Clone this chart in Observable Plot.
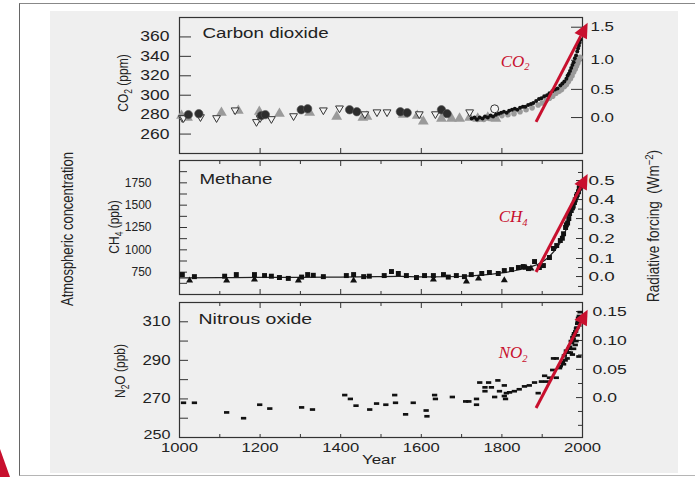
<!DOCTYPE html>
<html><head><meta charset="utf-8">
<script src="https://cdn.jsdelivr.net/npm/d3@7"></script>
<script src="https://cdn.jsdelivr.net/npm/@observablehq/plot@0.6"></script>
<style>
html,body{margin:0;padding:0;background:#fff;}
#root{position:relative;width:695px;height:477px;overflow:hidden;font-family:"Liberation Sans",Arial,sans-serif;color:#222;}
.panel{position:absolute;left:0;}
.panel svg{overflow:visible;display:block;}
.vlab{position:absolute;white-space:nowrap;line-height:1;}
.vlab sub,.vlab sup{font-size:0.7em;line-height:0;}
</style></head><body><div id="root">
<div style="position:absolute;left:19px;top:3px;width:700px;height:471px;border-left:1.5px solid #666;border-top:1.5px solid #888;border-bottom:1.5px solid #b5b5b5;"></div>
<div style="position:absolute;left:50px;top:11px;width:628px;height:462px;background:#efefef;"></div>
<svg style="position:absolute;left:0;top:0" width="695" height="477"><polygon points="0,449 10,477 0,477" fill="#c8102e"/></svg>
<div class="vlab" style="left:68px;top:229px;font-size:13px;transform:translate(-50%,-50%) rotate(-90deg) scale(1,1.2);">Atmospheric concentration</div>
<div class="vlab" style="left:654px;top:226px;font-size:13.5px;transform:translate(-50%,-50%) rotate(-90deg) scale(1,1.2);">Radiative forcing&nbsp;&nbsp;(Wm<sup>−2</sup>)</div>
<div class="vlab" style="left:123px;top:83px;font-size:12px;transform:translate(-50%,-50%) rotate(-90deg) scale(1,1.25);">CO<sub>2</sub>&nbsp;(ppm)</div>
<div class="vlab" style="left:114px;top:227px;font-size:12px;transform:translate(-50%,-50%) rotate(-90deg) scale(1,1.25);">CH<sub>4</sub>&nbsp;(ppb)</div>
<div class="vlab" style="left:120px;top:371px;font-size:12px;transform:translate(-50%,-50%) rotate(-90deg) scale(1,1.25);">N<sub>2</sub>O&nbsp;(ppb)</div>
</div>
<script>
// ---------- data (year, value) ----------
const co2Circles = [[1022,280],[1048,281],[1203,279],[1213,280],[1302,285],[1318,286],[1422,285],[1440,283],[1548,283],[1565,282],[1650,285],[1664,281]];
const co2Triangles = [[1005,279],[1020,277],[1104,282],[1146,284],[1198,283],[1248,281],[1323,282],[1390,278],[1455,277],[1465,278],[1555,280],[1590,279],[1605,273],[1650,276],[1675,276],[1695,276],[1720,277],[1740,276],[1765,277],[1785,276]];
const co2InvTriangles = [[1007,276],[1010,276],[1052,277],[1092,276],[1138,284],[1191,272],[1200,276],[1228,275],[1283,278],[1357,284],[1397,286],[1460,280],[1490,282],[1515,282],[1595,280],[1635,280],[1720,282]];
const co2OpenCircles = [[1782,286]];
const co2Black = [[1725,276],[1732,277],[1738,275],[1745,277],[1752,276],[1758,278],[1765,277],[1772,279],[1778,278],[1785,280],[1792,281],[1798,282],[1805,283],[1812,282],[1818,284],[1825,285],[1832,286],[1838,285],[1845,287],[1852,288],[1858,288],[1865,290],[1872,291],[1878,292],[1885,294],[1892,296],[1898,297],[1905,299],[1912,300],[1918,302],[1925,304],[1932,306],[1938,307],[1945,310],[1950,312],[1955,314],[1960,317],[1963,320],[1966,322],[1969,325],[1972,328],[1975,331],[1978,334],[1981,338],[1984,341],[1987,345],[1989,348],[1991,351],[1993,354],[1995,357]];
const co2Gray = [[1740,275],[1755,275],[1770,276],[1785,277],[1800,279],[1815,280],[1830,281],[1845,283],[1860,285],[1875,287],[1890,290],[1900,292],[1910,295],[1918,297],[1926,299],[1934,302],[1942,304],[1948,306],[1955,309],[1960,311],[1965,314],[1970,317],[1974,320],[1978,324],[1982,327],[1985,330],[1988,333],[1991,336],[1994,339]];

const ch4Squares = [[1007,723],[1037,700],[1112,705],[1141,723],[1186,723],[1211,712],[1228,705],[1248,690],[1270,680],[1303,695],[1318,723],[1332,715],[1357,700],[1414,712],[1432,723],[1457,700],[1471,705],[1508,712],[1526,757],[1543,735],[1563,712],[1588,690],[1608,712],[1630,712],[1655,723],[1667,695],[1687,712],[1707,700],[1724,723],[1750,735],[1769,746],[1791,735],[1806,768],[1824,779],[1841,802],[1853,813],[1866,790],[1881,869],[1893,802],[1903,824],[1918,914],[1928,1015],[1936,1048],[1945,1104],[1950,1130],[1953,1180],[1958,1250],[1960,1280],[1963,1300],[1966,1350],[1968,1406],[1972,1440],[1975,1470],[1977,1490],[1980,1530],[1982,1560],[1985,1600],[1987,1620],[1990,1650],[1992,1690],[1993,1700],[1995,1720]];
const ch4Triangles = [[1025,656],[1117,656],[1186,668],[1295,656],[1432,656],[1630,667],[1712,645],[1742,679],[1806,660],[1860,800],[1872,790]];
const ch4Line = [[1000,685],[1100,688],[1200,692],[1300,690],[1400,695],[1500,700],[1550,705],[1600,695],[1700,700],[1750,715],[1800,740],[1850,780],[1880,820],[1900,860],[1920,930],[1940,1040],[1950,1120],[1960,1230],[1970,1380],[1980,1530],[1990,1690]];

const n2oPoints = [[1010,268],[1037,268],[1117,263],[1159,260],[1199,267],[1224,265],[1303,265.6],[1330,264.5],[1410,272],[1424,270],[1438,266.5],[1472,264.5],[1489,267.6],[1512,267],[1534,272],[1536,268],[1561,262],[1580,268],[1612,264],[1614,261],[1633,272],[1635,270],[1677,271],[1710,268.7],[1718,268.7],[1737,270],[1737,267],[1745,278.5],[1767,278.5],[1758,276],[1758,274],[1774,276],[1790,279.6],[1782,271],[1794,274],[1806,277],[1811,273],[1809,270],[1806,271.5],[1819,273.4],[1831,274],[1843,275],[1856,276.5],[1868,277],[1881,278.5],[1890,273],[1898,279],[1906,282],[1910,279],[1918,281],[1926,285],[1935,281],[1928,291],[1935,291],[1943,286],[1945,287],[1950,289],[1953,288],[1955,292.5],[1957,290],[1960,295],[1962,291],[1965,294],[1967,296],[1968,297],[1970,294],[1972,300],[1973,299],[1975,293],[1976,302],[1977,301],[1978,296],[1979,303],[1980,304],[1982,298],[1983,305],[1984,300],[1985,306.5],[1986,307],[1987,303],[1988,309],[1989,310],[1990,312],[1991,292],[1992,313],[1993,310],[1994,315]];

// axes
const xLabelTicks = [1000,1200,1400,1600,1800,2000];
const xMajorTicks = [1200,1400,1600,1800];
const xMinorTicks = [1100,1300,1500,1700,1900];
const co2Ticks = [260,280,300,320,340,360];
const co2ForcingLabels = ["0.0","0.5","1.0","1.5"];
const co2ForcingAt = [277,306,336,370];
const ch4Ticks = [625,750,875,1000,1125,1250,1375,1500,1625,1750,1875];
const ch4LabelTicks = [750,1000,1250,1500,1750];
const ch4ForcingLabels = ["0.0","0.1","0.2","0.3","0.4","0.5"];
const ch4ForcingAt = [701,903,1127,1350,1563,1776];
const ch4ForcingMinorAt = [590,802,1015,1238,1456,1670,1866];
const n2oTicks = [260,270,280,290,300,310];
const n2oLabelTicks = [270,290,310];
const n2oBottomLabel = [250];
const n2oForcingLabels = ["0.0","0.05","0.10","0.15"];
const n2oForcingAt = [270.7,285.3,300.3,315.3];
const n2oForcingMinorAt = [256.3,263.5,278,292.8,307.8];

// red arrows and labels
const arrowYears = [1886, 2014];
const co2Arrow = [272, 374];
const ch4Arrow = [746, 1843];
const n2oArrow = [265, 316];
const co2Label = {x: 1797, y: 335, text: "CO₂"};
const ch4Label = {x: 1792, y: 1373, text: "CH₄"};
const n2oLabel = {x: 1792, y: 294, text: "NO₂"};

// ---------- drawing ----------
const RED = "#c8102e";
const INK = "#222";
const root = document.getElementById("root");

const triDown = {draw(ctx, size) { const s = Math.sqrt(size); ctx.moveTo(-0.55*s, -0.4*s); ctx.lineTo(0.55*s, -0.4*s); ctx.lineTo(0, 0.55*s); ctx.closePath(); }};
const dash = {draw(ctx, size) { const s = Math.sqrt(size); ctx.rect(-0.65*s, -0.33*s, 1.3*s, 0.66*s); }};

function arrowMark(ys) {
  return (index, scales) => {
    const x1 = scales.x(arrowYears[0]), y1 = scales.y(ys[0]);
    const x2 = scales.x(arrowYears[1]), y2 = scales.y(ys[1]);
    const a = Math.atan2(y2 - y1, x2 - x1), hl = 15, hw = 7;
    const bx = x2 - hl*Math.cos(a), by = y2 - hl*Math.sin(a);
    const g = d3.create("svg:g");
    g.append("line").attr("x1", x1).attr("y1", y1).attr("x2", bx).attr("y2", by)
      .attr("stroke", RED).attr("stroke-width", 3);
    g.append("path").attr("fill", RED).attr("d",
      `M${x2},${y2}L${bx + hw*Math.sin(a)},${by - hw*Math.cos(a)}L${bx - hw*Math.sin(a)},${by + hw*Math.cos(a)}Z`);
    return g.node();
  };
}
function arrowLabel(l) {
  return Plot.text([l], {x: "x", y: "y", text: "text", textAnchor: "start", lineAnchor: "middle",
    fontFamily: "'Liberation Serif', 'Times New Roman', serif", fontStyle: "italic", fontSize: 17, fill: RED});
}
const mapOf = (at, labels) => new Map(at.map((v, i) => [v, labels[i]]));

function panel(top, height, marginBottom, yDomain, marks, rules) {
  const svg = Plot.plot({
    width: 695, height, marginTop: 17, marginBottom, marginLeft: 179, marginRight: 113,
    x: {domain: [1000, 2000]}, y: {domain: yDomain},
    style: {background: "transparent", overflow: "visible", fontFamily: "'Liberation Sans', Arial, sans-serif", fontSize: "14px", color: INK},
    marks
  });
  d3.select(svg).selectAll("g[font-style='italic'] text").each(function() {
    const s = this.textContent, m = s.match(/^(.*?)([₀-₉])$/);
    if (m) {
      this.textContent = m[1];
      d3.select(this).append("tspan").attr("font-size", "0.62em").attr("dy", "0.35em").text("₀₁₂₃₄₅₆₇₈₉".indexOf(m[2]));
    }
  });
  d3.select(svg).selectAll("text").each(function() {
    const g = this.parentNode;
    if (g.getAttribute("font-style") === "italic") return;
    const label = g.getAttribute("aria-label") || "", anchor = g.getAttribute("text-anchor") || "";
    let sx = null;
    for (const r of rules) if (label === r.label && (!r.anchor || r.anchor === anchor)) sx = r.sx;
    if (sx != null) this.setAttribute("transform", (this.getAttribute("transform") || "") + ` scale(${sx},1)`);
  });
  const div = document.createElement("div");
  div.className = "panel"; div.style.top = top + "px";
  div.appendChild(svg); root.appendChild(div);
}
const X = d => d[0], Y = d => d[1];

// Panel 1: carbon dioxide
const co2Map = mapOf(co2ForcingAt, co2ForcingLabels);
panel(0, 163, 10, [240, 380], [
  Plot.frame({stroke: "#333", strokeWidth: 1.2}),
  Plot.axisY(co2Ticks, {anchor: "left", tickSize: -12, tickPadding: 22, tickFormat: d => String(d), fontSize: 14, label: null, stroke: "#333"}),
  Plot.axisY(co2ForcingAt, {anchor: "right", tickSize: -12, tickPadding: 20, tickFormat: d => co2Map.get(d), fontSize: 13, label: null, stroke: "#333"}),
  Plot.axisX(xMajorTicks, {anchor: "bottom", tickSize: -5, tickFormat: () => "", label: null, stroke: "#333"}),
  Plot.text(["Carbon dioxide"], {frameAnchor: "top-left", dx: 23, dy: 10, textAnchor: "start", lineAnchor: "top", fontSize: 15}),
  Plot.dot(co2Gray, {x: X, y: Y, r: 2.8, fill: "#9a9a9a", stroke: "none"}),
  Plot.dot(co2Triangles, {x: X, y: Y, symbol: "triangle", r: 4, fill: "#9a9a9a", stroke: "none"}),
  Plot.dot(co2InvTriangles, {x: X, y: Y, symbol: triDown, r: 4, fill: "#f4f4f4", stroke: "#333", strokeWidth: 1}),
  Plot.dot(co2Circles, {x: X, y: Y, r: 4.2, fill: "#2e2e2e", stroke: "#555", strokeWidth: 0.6}),
  Plot.dot(co2OpenCircles, {x: X, y: Y, r: 4, fill: "#f4f4f4", stroke: "#333", strokeWidth: 1}),
  Plot.dot(co2Black, {x: X, y: Y, r: 2, fill: "#111", stroke: "none"}),
  arrowMark(co2Arrow),
  arrowLabel(co2Label)
], [
  {label: "y-axis tick label", anchor: "end", sx: 1.25},
  {label: "y-axis tick label", anchor: "start", sx: 1.3},
  {label: "text", sx: 1.25}
]);

// Panel 2: methane
const ch4Map = mapOf(ch4ForcingAt, ch4ForcingLabels);
panel(143, 161, 10, [500, 2000], [
  Plot.frame({stroke: "#333", strokeWidth: 1.2}),
  Plot.axisY(ch4Ticks, {anchor: "left", tickSize: -8, tickPadding: 36, tickFormat: d => ch4LabelTicks.includes(d) ? String(d) : "", fontSize: 12, label: null, stroke: "#333"}),
  Plot.axisY(ch4ForcingAt, {anchor: "right", tickSize: -7, tickPadding: 13, tickFormat: d => ch4Map.get(d), fontSize: 13, label: null, stroke: "#333"}),
  Plot.axisY(ch4ForcingMinorAt, {anchor: "right", tickSize: -5, tickFormat: () => "", label: null, stroke: "#333"}),
  Plot.axisX(xMajorTicks, {anchor: "top", tickSize: -5, tickFormat: () => "", label: null, stroke: "#333"}),
  Plot.axisX(xMinorTicks, {anchor: "top", tickSize: -3, tickFormat: () => "", label: null, stroke: "#333"}),
  Plot.axisX(xMajorTicks, {anchor: "bottom", tickSize: -5, tickFormat: () => "", label: null, stroke: "#333"}),
  Plot.axisX(xMinorTicks, {anchor: "bottom", tickSize: -3, tickFormat: () => "", label: null, stroke: "#333"}),
  Plot.text(["Methane"], {frameAnchor: "top-left", dx: 20, dy: 13, textAnchor: "start", lineAnchor: "top", fontSize: 15}),
  Plot.line(ch4Line, {x: X, y: Y, stroke: "#222", strokeWidth: 1.2, curve: "basis"}),
  Plot.dot(ch4Triangles, {x: X, y: Y, symbol: "triangle", r: 2.6, fill: "#111", stroke: "none"}),
  Plot.dot(ch4Squares, {x: X, y: Y, symbol: "square", r: 2.8, fill: "#111", stroke: "none"}),
  arrowMark(ch4Arrow),
  arrowLabel(ch4Label)
], [
  {label: "y-axis tick label", anchor: "end", sx: 1.0},
  {label: "y-axis tick label", anchor: "start", sx: 1.45},
  {label: "text", sx: 1.25}
]);

// Panel 3: nitrous oxide
const n2oMap = mapOf(n2oForcingAt, n2oForcingLabels);
panel(285, 192, 40, [250, 320], [
  Plot.frame({stroke: "#333", strokeWidth: 1.2}),
  Plot.axisY(n2oTicks, {anchor: "left", tickSize: -9, tickPadding: 18, tickFormat: d => n2oLabelTicks.includes(d) ? String(d) : "", fontSize: 14, label: null, stroke: "#333"}),
  Plot.axisY(n2oBottomLabel, {anchor: "left", tickSize: 0, tickPadding: 9, dy: -3, tickFormat: d => String(d), fontSize: 13.5, label: null}),
  Plot.axisY(n2oForcingAt, {anchor: "right", tickSize: -7, tickPadding: 17, tickFormat: d => n2oMap.get(d), fontSize: 13, label: null, stroke: "#333"}),
  Plot.axisY(n2oForcingMinorAt, {anchor: "right", tickSize: -5, tickFormat: () => "", label: null, stroke: "#333"}),
  Plot.axisX(xMajorTicks, {anchor: "top", tickSize: -5, tickFormat: () => "", label: null, stroke: "#333"}),
  Plot.axisX(xMinorTicks, {anchor: "top", tickSize: -3, tickFormat: () => "", label: null, stroke: "#333"}),
  Plot.axisX(xMinorTicks.concat(xMajorTicks), {anchor: "bottom", tickSize: -3, tickFormat: () => "", label: null, stroke: "#333"}),
  Plot.axisX(xLabelTicks, {anchor: "bottom", tickSize: 0, tickPadding: 5, tickFormat: d => String(d), fontSize: 13, label: null}),
  Plot.text(["Year"], {frameAnchor: "bottom", dx: -2, dy: 22, textAnchor: "middle", lineAnchor: "middle", fontSize: 13}),
  Plot.text(["Nitrous oxide"], {frameAnchor: "top-left", dx: 19, dy: 11, textAnchor: "start", lineAnchor: "top", fontSize: 15}),
  Plot.dot(n2oPoints, {x: X, y: Y, symbol: dash, r: 2.3, fill: "#111", stroke: "none"}),
  arrowMark(n2oArrow),
  arrowLabel(n2oLabel)
], [
  {label: "y-axis tick label", anchor: "end", sx: 1.2},
  {label: "y-axis tick label", anchor: "start", sx: 1.35},
  {label: "x-axis tick label", sx: 1.28},
  {label: "text", sx: 1.3}
]);
</script>
</body></html>
